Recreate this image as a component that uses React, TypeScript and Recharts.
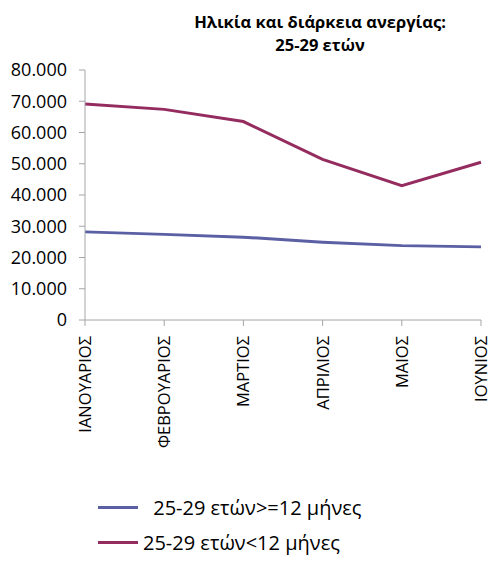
import { LineChart, Line, XAxis, YAxis, Legend } from 'recharts';

const months = ['ΙΑΝΟΥΑΡΙΟΣ', 'ΦΕΒΡΟΥΑΡΙΟΣ', 'ΜΑΡΤΙΟΣ', 'ΑΠΡΙΛΙΟΣ', 'ΜΑΙΟΣ', 'ΙΟΥΝΙΟΣ'];
const longTerm = [28200, 27400, 26500, 24900, 23800, 23400];
const shortTerm = [69100, 67400, 63500, 51400, 43000, 50500];
const yTicks = [0, 10000, 20000, 30000, 40000, 50000, 60000, 70000, 80000];

const seriesNames = ['25-29 ετών>=12 μήνες', '25-29 ετών<12 μήνες'];
const BLUE = '#5b5fa3';
const RED = '#952c5f';
const AXIS = '#a6a6a6';
const FONT = '"Open Sans", sans-serif';

const data = months.map((m, i) => ({ name: m, longTerm: longTerm[i], shortTerm: shortTerm[i] }));

const fmt = (v: number) => (v === 0 ? '0' : v.toLocaleString('de-DE'));

function MonthTick({ x, y, payload }: any) {
    return (
        <text
            x={0}
            y={0}
            transform={`translate(${x + 6},${y + 8}) rotate(-90)`}
            textAnchor="end"
            fontSize={16.5}
            fontFamily={FONT}
            fill="#000"
        >
            {payload.value}
        </text>
    );
}

function LegendBox() {
    const rows = [
        { color: BLUE, label: ' ' + seriesNames[0], pad: 10 },
        { color: RED, label: seriesNames[1], pad: 5 },
    ];
    return (
        <div style={{ paddingTop: 7 }}>
            {rows.map((r) => (
                <div key={r.label} style={{ display: 'flex', alignItems: 'center', height: 35, marginLeft: 98 }}>
                    <div style={{ width: 40, height: 3, background: r.color }} />
                    <span style={{ marginLeft: r.pad, fontFamily: FONT, fontSize: 20, color: '#000', whiteSpace: 'pre' }}>{r.label}</span>
                </div>
            ))}
        </div>
    );
}

export default function App() {
    return (
        <div style={{ position: 'absolute', left: 0, top: 0, width: 494, height: 563, background: '#fff' }}>
            <div style={{ position: 'absolute', left: 146, width: 348, top: 10, textAlign: 'center', fontFamily: FONT, fontWeight: 'bold', fontSize: 16.5, lineHeight: '23px' }}>
                Ηλικία και διάρκεια ανεργίας:
                <br />
                25-29 ετών
            </div>
            <LineChart width={494} height={563} data={data} margin={{ top: 70, right: 13, bottom: 0, left: 0 }}>
                <XAxis
                    dataKey="name"
                    interval={0}
                    height={163}
                    tick={<MonthTick />}
                    tickSize={6}
                    stroke={AXIS}
                    axisLine={{ stroke: AXIS }}
                    tickLine={{ stroke: AXIS }}
                />
                <YAxis
                    width={85}
                    domain={[0, 80000]}
                    ticks={yTicks}
                    tickFormatter={fmt}
                    tickSize={6}
                    tickMargin={12}
                    stroke={AXIS}
                    tick={{ fill: '#000', fontSize: 18, fontFamily: FONT }}
                />
                <Legend
                    layout="vertical"
                    verticalAlign="bottom"
                    content={<LegendBox />}
                    wrapperStyle={{ left: 0, width: 494, bottom: 0, height: 80 }}
                />
                <Line dataKey="longTerm" name={seriesNames[0]} stroke={BLUE} strokeWidth={3} dot={false} isAnimationActive={false} />
                <Line dataKey="shortTerm" name={seriesNames[1]} stroke={RED} strokeWidth={3} dot={false} isAnimationActive={false} />
            </LineChart>
        </div>
    );
}
